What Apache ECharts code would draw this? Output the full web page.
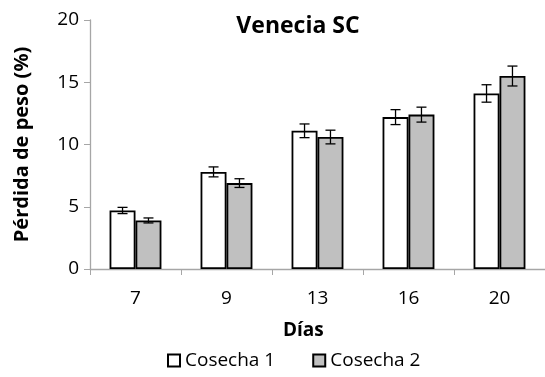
<!DOCTYPE html>
<html><head><meta charset="utf-8">
<script src="https://cdn.jsdelivr.net/npm/echarts@6/dist/echarts.min.js"></script>
<style>html,body{margin:0;padding:0;background:#fff}#c{width:545px;height:377px}</style>
</head><body><div id="c"></div>
<script>
const categories = ['7', '9', '13', '16', '20'];
const cosecha1 = [4.7, 7.8, 11.1, 12.2, 14.1];
const cosecha1Err = [0.25, 0.4, 0.55, 0.6, 0.7];
const cosecha2 = [3.9, 6.9, 10.6, 12.4, 15.5];
const cosecha2Err = [0.2, 0.35, 0.55, 0.6, 0.8];
const yTicks = [0, 5, 10, 15, 20];

const FONT = 'Open Sans';
const GAP = 0.43;
function errSeries(name, vals, errs, side) {
  return {
    type: 'custom', name: name + ' err', silent: true, z: 10,
    data: vals.map((v, i) => [i, v, errs[i]]),
    renderItem: function (params, api) {
      const i = api.value(0), v = api.value(1), e = api.value(2);
      const bw = api.size([1, 0])[0];
      const off = side * bw * (1 - GAP) / 4;
      const c = api.coord([i, v]);
      const x = c[0] + off;
      const top = api.coord([i, v + e])[1];
      const bot = api.coord([i, v - e])[1];
      const cap = 5;
      const st = { stroke: '#000', lineWidth: 1.3 };
      return { type: 'group', children: [
        { type: 'line', shape: { x1: x, y1: top, x2: x, y2: bot }, style: st },
        { type: 'line', shape: { x1: x - cap, y1: top, x2: x + cap, y2: top }, style: st },
        { type: 'line', shape: { x1: x - cap, y1: bot, x2: x + cap, y2: bot }, style: st }
      ]};
    }
  };
}
const chart = echarts.init(document.getElementById('c'), null, { renderer: 'canvas' });
chart.setOption({
  animation: false,
  textStyle: { fontFamily: FONT },
  title: { text: 'Venecia SC', left: 293, textAlign: 'center', top: 10,
    textStyle: { fontFamily: FONT, fontWeight: 'bold', fontSize: 23, color: '#000' } },
  grid: { left: 90, right: -10, top: 20, bottom: 108 },
  legend: {
    data: ['Cosecha 1', 'Cosecha 2'], left: 162, top: 346, itemWidth: 12, itemHeight: 12, itemGap: 37,
    icon: 'rect',
    textStyle: { fontFamily: FONT, fontSize: 19, color: '#000', padding: [0, 0, 0, 0] }
  },
  xAxis: {
    type: 'category', data: categories,
    axisLine: { lineStyle: { color: '#a6a6a6', width: 1.3 } },
    axisTick: { show: true, length: 6, lineStyle: { color: '#a6a6a6' }, alignWithLabel: false },
    axisLabel: { color: '#000', fontSize: 19, margin: 20, fontFamily: FONT }
  },
  yAxis: {
    type: 'value', min: 0, max: 20, interval: 5,
    axisLine: { show: true, lineStyle: { color: '#a6a6a6', width: 1.3 } },
    axisTick: { show: true, length: 6, lineStyle: { color: '#a6a6a6' } },
    splitLine: { show: false },
    axisLabel: { color: '#000', fontSize: 19, margin: 11, fontFamily: FONT,
      formatter: v => yTicks.includes(v) ? String(v) : '' },
    name: 'Pérdida de peso (%)', nameLocation: 'middle', nameGap: 58, nameRotate: 90,
    nameTextStyle: { fontFamily: FONT, fontWeight: 'bold', fontSize: 20, color: '#000' }
  },
  graphic: [{ type: 'text', left: 283, top: 321, style: { text: 'Días', fontFamily: FONT, fontWeight: 'bold', fontSize: 19, fill: '#000' } }],
  series: [
    { name: 'Cosecha 1', type: 'bar', data: cosecha1, barGap: '0%', barCategoryGap: '43%',
      itemStyle: { color: '#ffffff', borderColor: '#000', borderWidth: 1.8 } },
    { name: 'Cosecha 2', type: 'bar', data: cosecha2, barGap: '0%', barCategoryGap: '43%',
      itemStyle: { color: '#c0c0c0', borderColor: '#000', borderWidth: 1.8 } },
    errSeries('Cosecha 1', cosecha1, cosecha1Err, -1),
    errSeries('Cosecha 2', cosecha2, cosecha2Err, 1)
  ]
});
</script></body></html>
